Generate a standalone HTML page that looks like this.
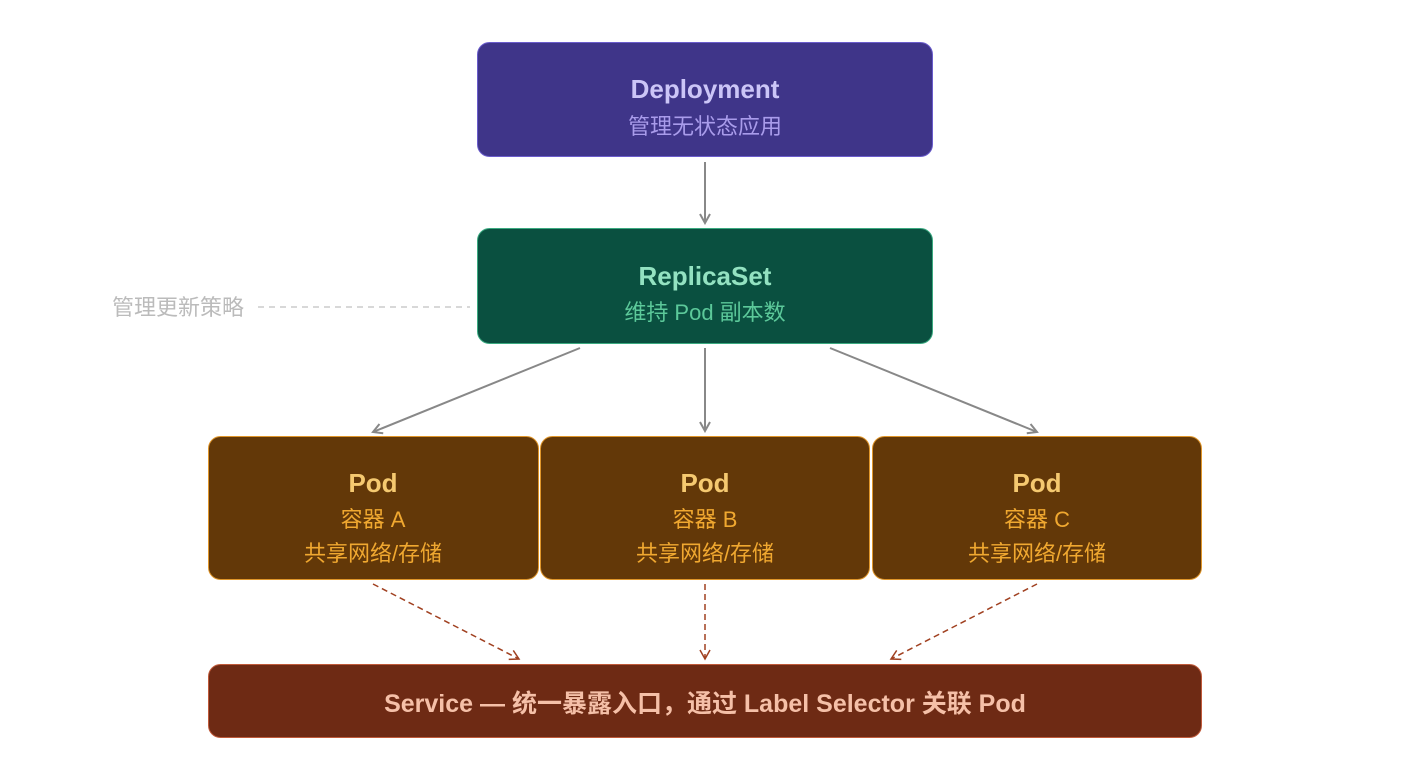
<!DOCTYPE html>
<html><head><meta charset="utf-8"><style>
html,body{margin:0;padding:0;background:#fff;}
svg text{font-family:"Liberation Sans","Noto Sans CJK SC",sans-serif;text-anchor:middle;}
</style></head><body>
<svg width="1410" height="768" viewBox="0 0 1410 768" xmlns="http://www.w3.org/2000/svg">
<defs>
<marker id="ag" markerWidth="12" markerHeight="12" refX="10" refY="6" orient="auto" markerUnits="userSpaceOnUse"><path d="M1,1 L10,6 L1,11" fill="none" stroke="#888" stroke-width="2"/></marker>
<marker id="ar" markerWidth="12" markerHeight="12" refX="10" refY="6" orient="auto" markerUnits="userSpaceOnUse"><path d="M1,1 L10,6 L1,11" fill="none" stroke="#a04020" stroke-width="1.5"/></marker>
</defs>
<rect x="477.5" y="42.5" width="455" height="114" rx="12" fill="#3f3589" stroke="#6a5ccc"/>
<text x="705" y="98" font-size="26" font-weight="bold" fill="#cbc5f7">Deployment</text>
<text x="705" y="134" font-size="22" fill="#a99ceb">管理无状态应用</text>
<line x1="705" y1="162" x2="705" y2="223" stroke="#888" stroke-width="2" marker-end="url(#ag)"/>
<rect x="477.5" y="228.5" width="455" height="115" rx="12" fill="#0a5040" stroke="#3aaa80"/>
<text x="705" y="285" font-size="26" font-weight="bold" fill="#93e2c1">ReplicaSet</text>
<text x="705" y="320" font-size="22" fill="#5cc99a">维持 Pod 副本数</text>
<line x1="258" y1="307" x2="470" y2="307" stroke="#ccc" stroke-width="1.5" stroke-dasharray="6,5"/>
<text x="178" y="315" font-size="22" fill="#bbb">管理更新策略</text>
<line x1="580" y1="348" x2="373" y2="432" stroke="#888" stroke-width="2" marker-end="url(#ag)"/>
<line x1="705" y1="348" x2="705" y2="431" stroke="#888" stroke-width="2" marker-end="url(#ag)"/>
<line x1="830" y1="348" x2="1037" y2="432" stroke="#888" stroke-width="2" marker-end="url(#ag)"/>
<g font-size="22">
<rect x="208.5" y="436.5" width="330" height="143" rx="12" fill="#633808" stroke="#e0962a"/>
<rect x="540.5" y="436.5" width="329" height="143" rx="12" fill="#633808" stroke="#e0962a"/>
<rect x="872.5" y="436.5" width="329" height="143" rx="12" fill="#633808" stroke="#e0962a"/>
<text x="373" y="492" font-size="26" font-weight="bold" fill="#f5c970">Pod</text>
<text x="373" y="527" fill="#f0a830">容器 A</text>
<text x="373" y="561" fill="#f0a830">共享网络/存储</text>
<text x="705" y="492" font-size="26" font-weight="bold" fill="#f5c970">Pod</text>
<text x="705" y="527" fill="#f0a830">容器 B</text>
<text x="705" y="561" fill="#f0a830">共享网络/存储</text>
<text x="1037" y="492" font-size="26" font-weight="bold" fill="#f5c970">Pod</text>
<text x="1037" y="527" fill="#f0a830">容器 C</text>
<text x="1037" y="561" fill="#f0a830">共享网络/存储</text>
</g>
<line x1="373" y1="584" x2="519" y2="659" stroke="#a04020" stroke-width="1.5" stroke-dasharray="6,4" marker-end="url(#ar)"/>
<line x1="705" y1="584" x2="705" y2="659" stroke="#a04020" stroke-width="1.5" stroke-dasharray="6,4" marker-end="url(#ar)"/>
<line x1="1037" y1="584" x2="891" y2="659" stroke="#a04020" stroke-width="1.5" stroke-dasharray="6,4" marker-end="url(#ar)"/>
<rect x="208.5" y="664.5" width="993" height="73" rx="12" fill="#6e2a14" stroke="#c05a3a"/>
<text x="705" y="712" font-size="25" font-weight="bold" fill="#f5c0a8">Service — 统一暴露入口，通过 Label Selector 关联 Pod</text>
</svg>
</body></html>
